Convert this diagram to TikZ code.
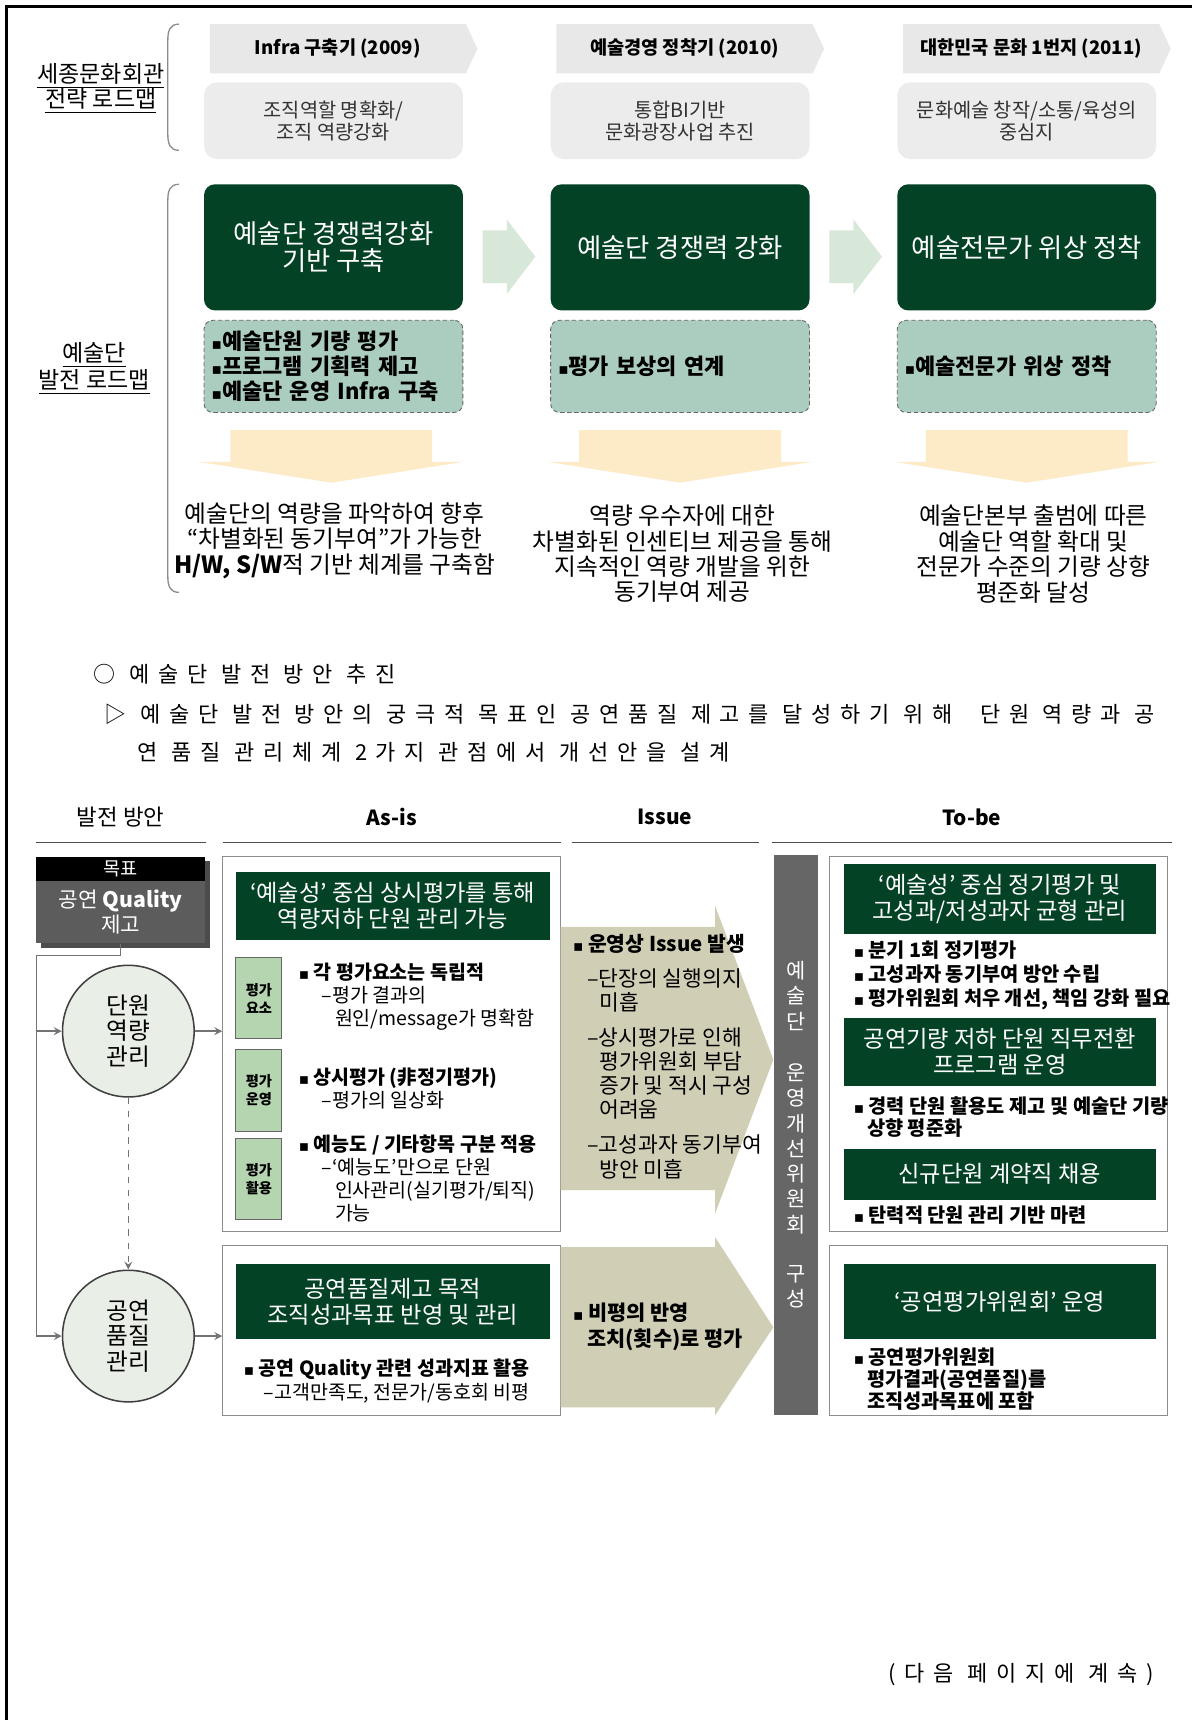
\documentclass[tikz,border=0pt]{standalone}
\usepackage{fontspec}
\setmainfont{Noto Sans CJK KR}
\newfontfamily\spacedfont[LetterSpace=40]{Noto Sans CJK KR}
\newfontfamily\symfont{DejaVu Sans}
\usetikzlibrary{positioning,shapes.symbols}

\definecolor{hdrgray}{RGB}{232,232,232}
\definecolor{stagegray}{RGB}{236,236,236}
\definecolor{darkgreen}{RGB}{4,66,38}
\definecolor{taskteal}{RGB}{170,205,191}
\definecolor{flowgreen}{RGB}{216,232,216}
\definecolor{peach}{RGB}{253,234,198}
\definecolor{khaki}{RGB}{208,206,181}
\definecolor{panelgray}{RGB}{102,102,102}
\definecolor{aimgray}{RGB}{92,92,92}
\definecolor{circfill}{RGB}{233,239,230}
\definecolor{tabgreen}{RGB}{181,212,176}

\newcommand{\sqb}{{\symfont\fontsize{7}{7}\selectfont\char"25AA}}

\begin{document}
\begin{tikzpicture}[x=0.5pt,y=-0.5pt,>=stealth,
    hdr/.style={signal,signal to=east,signal pointer angle=130,fill=hdrgray,
      minimum width=122pt,minimum height=22.5pt,inner sep=0pt,
      font=\bfseries\fontsize{8.5}{10}\selectfont},
    stage/.style={rounded corners=6pt,fill=stagegray,minimum width=118pt,
      minimum height=35pt,align=center,text=black!80,
      font=\fontsize{9}{10}\selectfont},
    aim/.style={rounded corners=5pt,fill=darkgreen,text=white,minimum width=118pt,
      minimum height=57.5pt,align=center,font=\fontsize{12}{12.5}\selectfont},
    task/.style={rounded corners=4pt,fill=taskteal,draw=black!60,
      dash pattern=on 2pt off 1.2pt,minimum width=118pt,minimum height=42pt,
      text width=111pt,align=left,font=\bfseries\fontsize{10}{11.5}\selectfont},
    result/.style={align=center,font=\fontsize{10.8}{11.6}\selectfont},
    lbl/.style={align=center,font=\fontsize{10.5}{11.5}\selectfont},
    brace/.style={draw=black!45,line width=0.6pt},
    note/.style={inner sep=0pt,font=\spacedfont\fontsize{10}{12}\selectfont},
    colhd/.style={font=\fontsize{10.2}{11}\selectfont},
    hline/.style={draw=black!70,line width=0.8pt},
    aimhead/.style={fill=black,text=white,minimum width=77pt,minimum height=11pt,
      inner sep=0pt,font=\fontsize{8.5}{10}\selectfont},
    aimbody/.style={fill=aimgray,text=white,minimum width=77pt,minimum height=28.5pt,
      inner sep=0pt,align=center,font=\fontsize{9.7}{11.5}\selectfont},
    circ/.style={circle,draw=black!75,line width=0.7pt,fill=circfill,
      minimum size=60pt,inner sep=0pt,align=center,
      font=\fontsize{10.8}{11.5}\selectfont},
    frame/.style={draw=black!45,fill=white,minimum width=154pt,inner sep=0pt},
    bar/.style={fill=darkgreen,text=white,minimum width=143pt,inner sep=0pt,
      align=center,font=\fontsize{10.6}{12}\selectfont},
    tab/.style={fill=tabgreen,draw=black!60,minimum width=21pt,minimum height=37pt,
      inner sep=0pt,align=center,font=\bfseries\fontsize{6.5}{8}\selectfont},
    pts/.style={anchor=west,inner sep=0pt,align=left,
      font=\fontsize{8.9}{10.5}\selectfont},
    issue/.style={anchor=west,inner sep=0pt,align=left,
      font=\fontsize{9.8}{11}\selectfont},
    vpanel/.style={fill=panelgray,text=white,minimum width=20pt,
      minimum height=255.5pt,inner sep=0pt,align=center,
      font=\fontsize{9.5}{11.5}\selectfont},
    conn/.style={draw=black!55,line width=0.6pt}]

\useasboundingbox (0,0) rectangle (1087,1568);
\fill[white] (0,0) rectangle (1087,1568);
\draw[line width=1.5pt] (6,1568) -- (6,6) -- (1087,6);

% ---- roadmap
\node[lbl] (lblHall) at (92,81) {\underline{세종문화회관}\\\underline{전략 로드맵}};
\node[lbl] (lblArts) at (86,336) {\underline{예술단}\\\underline{발전 로드맵}};
\draw[brace] (163,22) .. controls (155,22) and (153,28) .. (153,36) -- (153,123)
  .. controls (153,131) and (155,137) .. (163,137);
\draw[brace] (163,168) .. controls (155,168) and (153,174) .. (153,182) -- (153,526)
  .. controls (153,534) and (155,540) .. (163,540);

\node[hdr] (hdrA) at (308,44.5) {Infra 구축기 (2009)};
\node[hdr] (hdrB) at (624,44.5) {예술경영 정착기 (2010)};
\node[hdr] (hdrC) at (940,44.5) {대한민국 문화 1번지 (2011)};

\node[stage] (stageA) at (304,110) {조직역할 명확화/\\조직 역량강화};
\node[stage] (stageB) at (620,110) {통합BI기반\\문화광장사업 추진};
\node[stage] (stageC) at (936,110) {문화예술 창작/소통/육성의\\중심지};

\node[aim] (aimA) at (304,225.5) {예술단 경쟁력강화\\기반 구축};
\node[aim] (aimB) at (620,225.5) {예술단 경쟁력 강화};
\node[aim] (aimC) at (936,225.5) {예술전문가 위상 정착};

\fill[flowgreen] (440,210) -- (462,210) -- (462,200) -- (488,234) -- (462,268)
  -- (462,258) -- (440,258) -- cycle;
\fill[flowgreen] (756,210) -- (778,210) -- (778,200) -- (804,234) -- (778,268)
  -- (778,258) -- (756,258) -- cycle;

\node[task] (taskA) at (304,334) {\sqb{}예술단원 기량 평가\\\sqb{}프로그램 기획력 제고\\\sqb{}예술단 운영 Infra 구축};
\node[task] (taskB) at (620,334) {\sqb{}평가 보상의 연계};
\node[task] (taskC) at (936,334) {\sqb{}예술전문가 위상 정착};

\fill[peach] (210,392) -- (394,392) -- (394,421) -- (423,421) -- (302,440)
  -- (181,421) -- (210,421) -- cycle;
\fill[peach] (528,392) -- (712,392) -- (712,421) -- (741,421) -- (620,440)
  -- (499,421) -- (528,421) -- cycle;
\fill[peach] (844,392) -- (1028,392) -- (1028,421) -- (1057,421) -- (936,440)
  -- (815,421) -- (844,421) -- cycle;

\node[result] (resA) at (305,493) {예술단의 역량을 파악하여 향후\\“차별화된 동기부여”가 가능한\\\textbf{H/W, S/W}적 기반 체계를 구축함};
\node[result] (resB) at (622,505) {역량 우수자에 대한\\차별화된 인센티브 제공을 통해\\지속적인 역량 개발을 위한\\동기부여 제공};
\node[result] (resC) at (942,505) {예술단본부 출범에 따른\\예술단 역할 확대 및\\전문가 수준의 기량 상향\\평준화 달성};

% ---- text lines
\node[note,anchor=west] (noteA) at (85,615) {○ 예술단 발전 방안 추진};
\node[note,anchor=west] (noteB) at (95,651) {▷ 예술단 발전 방안의 궁극적 목표인 공연품질 제고를 달성하기 위해 \ 단원 역량과 공};
\node[note,anchor=west] (noteC) at (125,686) {연 품질 관리체계 2가지 관점에서 개선안을 설계};

% ---- column heads
\node[colhd] (colPlan) at (110,745) {발전 방안};
\node[colhd,font=\bfseries\fontsize{9.5}{11}\selectfont] (colAsis) at (357,745) {As-is};
\node[colhd,font=\bfseries\fontsize{9.5}{11}\selectfont] (colIssue) at (606,745) {Issue};
\node[colhd,font=\bfseries\fontsize{9.5}{11}\selectfont] (colTobe) at (886,745) {To-be};
\draw[hline] (33,768) -- (188,768);
\draw[hline] (203,768) -- (511,768);
\draw[hline] (521,768) -- (692,768);
\draw[hline] (704,768) -- (1068,768);

% ---- goal and circles
\fill[black!70] (37,785) rectangle (191,864);
\node[aimhead] (aimHead) at (110,792) {목표};
\node[aimbody] (aimBody) at (110,831.5) {공연 \textbf{Quality}\\제고};

\node[circ] (cirUnit) at (117,940) {단원\\역량\\관리};
\node[circ] (cirQual) at (117,1218) {공연\\품질\\관리};

\coordinate (trunk) at (33,871);

% ---- as-is
\node[frame,minimum height=171pt] (asisA) at (357,952) {};
\node[frame,minimum height=77.5pt] (asisB) at (357,1212.5) {};

\node[bar,minimum height=31pt] (asisAhd) at (358,826) {‘예술성’ 중심 상시평가를 통해\\역량저하 단원 관리 가능};
\node[tab] (tabA) at (236,910) {평가\\요소};
\node[tab] (tabB) at (236,994) {평가\\운영};
\node[tab] (tabC) at (236,1075) {평가\\활용};
\node[pts] (ptA) at (272,909) {{\bfseries\sqb\ 각 평가요소는 독립적}\\\hspace*{10.5pt}–평가 결과의\\\hspace*{16.5pt}원인/message가 명확함};
\node[pts] (ptB) at (272,992) {{\bfseries\sqb\ 상시평가 (非정기평가)}\\\hspace*{10.5pt}–평가의 일상화};
\node[pts] (ptC) at (272,1074) {{\bfseries\sqb\ 예능도 / 기타항목 구분 적용}\\\hspace*{10.5pt}–‘예능도’만으로 단원\\\hspace*{16.5pt}인사관리(실기평가/퇴직)\\\hspace*{16.5pt}가능};

\node[bar,minimum height=34.5pt] (asisBhd) at (358,1186.5) {공연품질제고 목적\\조직성과목표 반영 및 관리};
\node[pts] (ptD) at (222,1259) {{\bfseries\sqb\ 공연 Quality 관련 성과지표 활용}\\\hspace*{9pt}–고객만족도, 전문가/동호회 비평};

% ---- issue
\fill[khaki] (511,845) -- (652,845) -- (652,826) -- (705,966) -- (652,1106)
  -- (652,1085) -- (511,1085) -- cycle;
\fill[khaki] (511,1137) -- (652,1137) -- (652,1128) -- (705,1210) -- (652,1290)
  -- (652,1283) -- (511,1283) -- cycle;
\node[issue] (issA) at (522,963) {{\bfseries\fontsize{9.3}{11}\selectfont\sqb\ 운영상 Issue 발생}\\[5pt]\hspace*{6.5pt}–단장의 실행의지\\\hspace*{12pt}미흡\\[5pt]\hspace*{6.5pt}–상시평가로 인해\\\hspace*{12pt}평가위원회 부담\\\hspace*{12pt}증가 및 적시 구성\\\hspace*{12pt}어려움\\[5pt]\hspace*{6.5pt}–고성과자 동기부여\\\hspace*{12pt}방안 미흡};
\node[issue,font=\bfseries\fontsize{9.5}{11.5}\selectfont] (issB) at (522,1209.5) {\sqb\ 비평의 반영\\\hspace*{6.5pt}조치(횟수)로 평가};

\node[vpanel] (panel) at (726,1034.5) {예\\술\\단\\[12pt]운\\영\\개\\선\\위\\원\\회\\[11pt]구\\성};

% ---- to-be
\node[frame,minimum height=171pt] (tobeA) at (910,952) {};
\node[frame,minimum height=77.5pt] (tobeB) at (910,1212.5) {};
\node[bar,minimum width=142.5pt,minimum height=31.5pt] (tobeAhd) at (911.5,819.5) {‘예술성’ 중심 정기평가 및\\고성과/저성과자 균형 관리};
\node[pts,font=\bfseries\fontsize{9}{11}\selectfont] (tpA) at (778,889) {\sqb\ 분기 1회 정기평가\\\sqb\ 고성과자 동기부여 방안 수립\\\sqb\ 평가위원회 처우 개선, 책임 강화 필요};
\node[bar,minimum width=142.5pt,minimum height=31pt] (tobeAmid) at (911.5,959) {공연기량 저하 단원 직무전환\\프로그램 운영};
\node[pts,font=\bfseries\fontsize{9}{10}\selectfont] (tpB) at (778,1018) {\sqb\ 경력 단원 활용도 제고 및 예술단 기량\\\hspace*{6pt}상향 평준화};
\node[bar,minimum width=142.5pt,minimum height=23.5pt] (tobeAlow) at (911.5,1070.5) {신규단원 계약직 채용};
\node[pts,font=\bfseries\fontsize{9}{10}\selectfont] (tpC) at (778,1108) {\sqb\ 탄력적 단원 관리 기반 마련};
\node[bar,minimum width=142.5pt,minimum height=34.5pt] (tobeBhd) at (911.5,1186.5) {‘공연평가위원회’ 운영};
\node[pts,font=\bfseries\fontsize{9}{10}\selectfont] (tpD) at (778,1257) {\sqb\ 공연평가위원회\\\hspace*{6pt}평가결과(공연품질)를\\\hspace*{6pt}조직성과목표에 포함};

% ---- connectors
\draw[conn] (aimBody.south) |- (trunk);
\draw[conn,->] (trunk) |- (cirQual.west);
\draw[conn,->] (trunk |- cirUnit.west) -- (cirUnit.west);
\draw[conn,->] (cirUnit.east) -- (asisA.west |- cirUnit.east);
\draw[conn,->] (cirQual.east) -- (asisB.west |- cirQual.east);
\draw[conn,dashed,->] (cirUnit.south) -- (cirQual.north);

\node[note,anchor=east] (cont) at (1052,1527) {(다음 페이지에 계속)};
\end{tikzpicture}
\end{document}
